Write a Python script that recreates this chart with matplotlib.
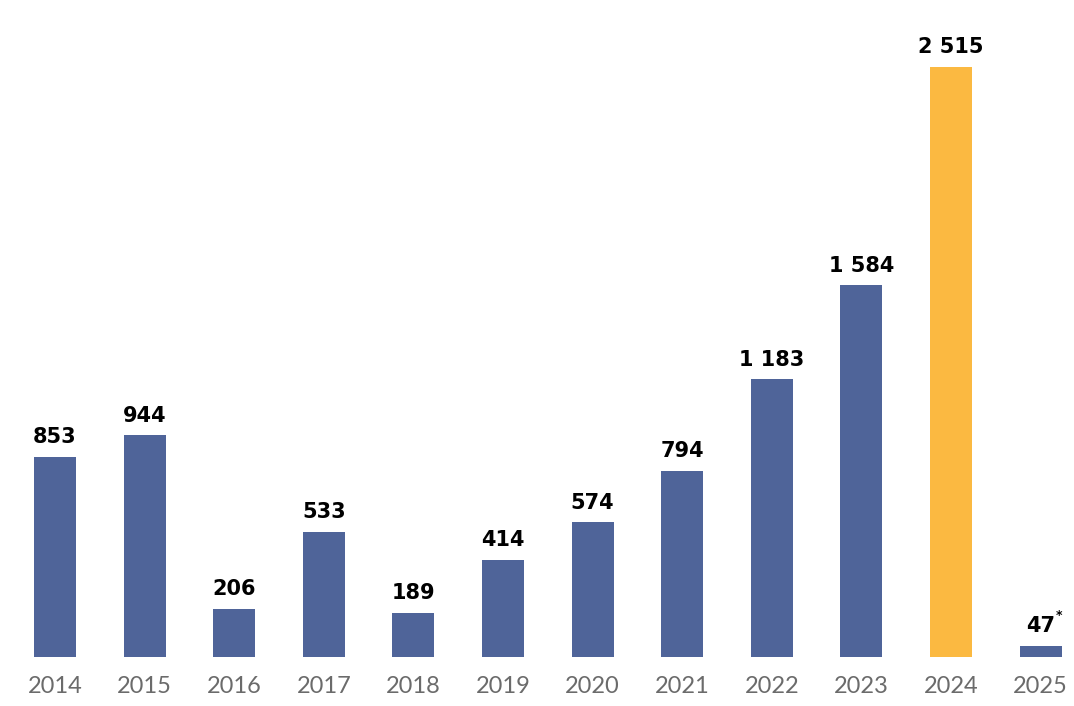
import matplotlib.pyplot as plt

years = ['2014', '2015', '2016', '2017', '2018', '2019', '2020', '2021', '2022', '2023', '2024', '2025']
values = [853, 944, 206, 533, 189, 414, 574, 794, 1183, 1584, 2515, 47]
highlight = '2024'

blue = '#4F6499'
orange = '#FBB941'

fig = plt.figure(figsize=(10.74, 7.06), dpi=100)
ax = fig.add_axes([0, 49 / 706, 1, 657 / 706])

colors = [orange if y == highlight else blue for y in years]
x = list(range(len(years)))
ax.bar(x, values, width=0.47, color=colors)

ax.set_xlim(-0.614, 11.373)
ax.set_ylim(0, 2800)

def fmt(v):
    return '{:,}'.format(v).replace(',', ' ')

for i, v in enumerate(values):
    ax.annotate(fmt(v), (i, v), xytext=(0, 7), textcoords='offset points',
                ha='center', va='bottom', fontsize=15, fontweight='bold',
                family='DejaVu Sans', color='black')
    if years[i] == '2025':
        # superscript asterisk for the partial year
        ax.annotate('*', (i, v), xytext=(11, 17), textcoords='offset points',
                    ha='left', va='bottom', fontsize=9, fontweight='bold',
                    family='DejaVu Sans', color='black')

ax.set_xticks(x)
ax.set_xticklabels(years, family='Lato', fontweight='normal', fontsize=17, color='#6b6b6b')
ax.tick_params(axis='x', length=0, pad=14)
ax.set_yticks([])
for s in ax.spines.values():
    s.set_visible(False)

plt.savefig('out.png', dpi=100)
plt.close()
